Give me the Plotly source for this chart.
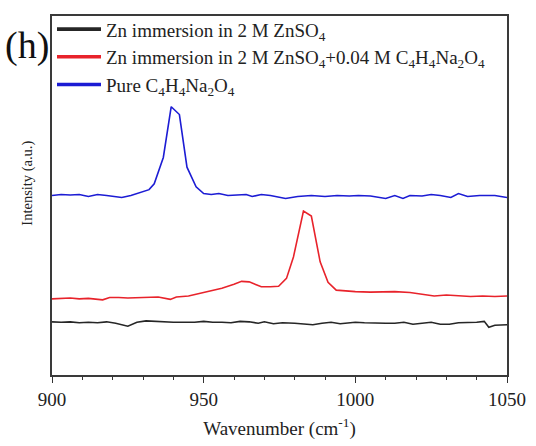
import plotly.graph_objects as go

# Wavenumber (cm^-1) and intensity (a.u., arbitrary offset units)
black_x = [900, 903, 906, 909, 912, 915, 918, 921, 925, 928, 931, 934, 937, 940, 944, 947, 950, 953, 956, 959,
           962, 965, 968, 970, 973, 976, 980, 983, 986, 989, 992, 995, 998, 1000, 1003, 1006, 1010, 1013, 1016,
           1019, 1022, 1025, 1028, 1031, 1034, 1037, 1040, 1042.5, 1044, 1046, 1048, 1050]
black_y = [54.5, 54, 54.5, 53.5, 54, 53.5, 54.5, 53, 50, 54, 55.5, 55, 54, 54, 54, 54, 55, 54, 54, 53.5,
           55, 54.5, 53, 54.5, 52.5, 53.5, 53, 52.5, 51.5, 53, 54, 52.5, 53.5, 54, 53.5, 53, 53, 53, 54,
           52, 53, 54, 52, 52, 53.5, 53.5, 54, 55, 49, 51, 51.5, 51.5]

red_x = [900, 903, 906, 909, 912, 916.7, 919, 922, 925, 930, 935, 939, 941, 945, 948, 952, 956, 960, 962.5,
         965, 967, 969, 972, 974.7, 977.3, 979.6, 982.9, 985.5, 988.4, 991, 993.7, 997, 1000, 1005, 1010, 1013,
         1018, 1022, 1026, 1030, 1034, 1038, 1042, 1046, 1050]
red_y = [78, 78.5, 79, 78, 78.5, 77, 79.5, 79.5, 79, 79.5, 80, 77.5, 80, 81, 83, 86, 89, 93, 96,
         95.5, 93, 90.5, 90.5, 91, 99, 121, 168, 163, 116, 95, 87, 86, 85.5, 85, 85, 85.5,
         84.5, 83, 81, 82, 81, 80.5, 81, 80.5, 81]

blue_x = [900, 903, 906, 909, 912, 915, 918, 920, 923, 926, 929, 932, 933.7, 936.7, 939.3, 942, 944.5, 947.5,
          950, 952.5, 955, 958, 961, 964, 966, 969, 972, 977, 981, 985.5, 990, 994, 998, 1001, 1005, 1010,
          1013, 1015.7, 1018, 1022, 1025, 1028, 1031.5, 1034, 1037, 1041, 1046, 1050]
blue_y = [184, 185, 184.5, 185, 183, 185, 184, 183, 182, 184, 187, 190, 196, 223, 275, 267, 213, 193,
          186, 185, 186, 184, 184.5, 185, 183, 185, 184, 181, 183, 184, 183, 184, 183.5, 184, 183.5, 181,
          184, 181, 184, 183.5, 185, 184, 182, 186, 183, 184, 184, 182]

names = ["Zn immersion in 2 M ZnSO<sub>4</sub>",
         "Zn immersion in 2 M ZnSO<sub>4</sub>+0.04 M C<sub>4</sub>H<sub>4</sub>Na<sub>2</sub>O<sub>4</sub>",
         "Pure C<sub>4</sub>H<sub>4</sub>Na<sub>2</sub>O<sub>4</sub>"]
colors = ["#262626", "#e8232b", "#1c1cd4"]

x_ticks = [900, 950, 1000, 1050]

FONT = "Liberation Serif, Times New Roman, serif"

fig = go.Figure()
for xs, ys, nm, c in zip([black_x, red_x, blue_x], [black_y, red_y, blue_y], names, colors):
    fig.add_trace(go.Scatter(x=xs, y=ys, mode="lines", name=nm, showlegend=False,
                             line=dict(color=c, width=1.6)))
# legend entries (thicker line keys, as in the reference)
for nm, c in zip(names, colors):
    fig.add_trace(go.Scatter(x=[None], y=[None], mode="lines", name=nm,
                             line=dict(color=c, width=3.6)))

fig.update_layout(
    width=536, height=446,
    margin=dict(l=52, r=26, t=10, b=68),
    paper_bgcolor="white", plot_bgcolor="white",
    font=dict(family=FONT, color="#222", size=19),
    showlegend=True,
    legend=dict(x=0.0, y=1.016, xanchor="left", yanchor="top",
                bgcolor="rgba(0,0,0,0)", borderwidth=0,
                font=dict(family=FONT, size=19, color="#222"),
                traceorder="normal", tracegroupgap=0, itemwidth=44),
)
fig.update_xaxes(range=[900, 1050], tickvals=x_ticks, ticktext=[str(v) for v in x_ticks],
                 ticks="outside", ticklen=6, tickwidth=1.3, tickcolor="#333",
                 minor=dict(dtick=10, ticks="outside", ticklen=3.5, tickcolor="#333", tickwidth=1.1),
                 showline=True, linecolor="#3a3a3a", linewidth=1.7, mirror=True,
                 showgrid=False, zeroline=False,
                 tickfont=dict(family=FONT, size=19, color="#222"),
                 title=dict(text="Wavenumber (cm<sup>-1</sup>)", font=dict(family=FONT, size=19, color="#222"),
                            standoff=13))
fig.update_yaxes(range=[0, 368], showticklabels=False, ticks="",
                 showline=True, linecolor="#3a3a3a", linewidth=1.7, mirror=True,
                 showgrid=False, zeroline=False)

fig.add_annotation(text="Intensity (a.u.)", xref="paper", yref="paper", x=0, y=0.533,
                   xanchor="center", yanchor="middle", xshift=-24, textangle=-90, showarrow=False,
                   font=dict(family=FONT, size=14.5, color="#222"))

fig.add_annotation(text="(h)", xref="paper", yref="paper", x=0, y=0.918,
                   xanchor="right", yanchor="middle", xshift=-1, showarrow=False,
                   font=dict(family=FONT, size=38, color="#111"))

fig.write_html("out.html")
